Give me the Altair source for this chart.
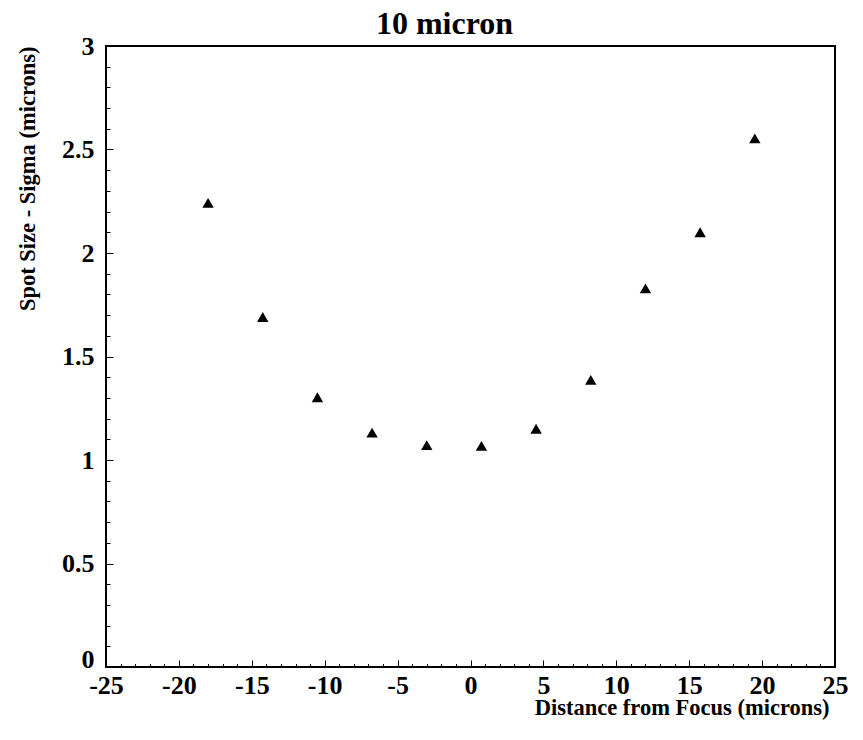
import altair as alt
import pandas as pd

# Data
distance = [-18.0, -14.25, -10.5, -6.75, -3.0, 0.75, 4.5, 8.25, 12.0, 15.75, 19.5]
sigma = [2.242, 1.691, 1.303, 1.132, 1.072, 1.068, 1.151, 1.387, 1.829, 2.100, 2.554]

x_major = [-25, -20, -15, -10, -5, 0, 5, 10, 15, 20, 25]
x_minor = list(range(-25, 26))
y_major = [0, 0.5, 1, 1.5, 2, 2.5, 3]
y_minor = [round(i * 0.1, 1) for i in range(31)]

df = pd.DataFrame({"x": distance, "y": sigma})

FONT = "Liberation Serif"
xs = alt.Scale(domain=[-25, 25], nice=False, zero=False)
ys = alt.Scale(domain=[0, 3], nice=False, zero=False)

base = alt.Chart(df)

points = base.mark_point(
    shape="triangle-up", filled=True, size=130, color="black", opacity=1
).encode(
    x=alt.X("x:Q", scale=xs, axis=alt.Axis(
        orient="bottom", values=x_major, ticks=False, domain=False, grid=False,
        labelExpr="toString(datum.value)",
        labelFont=FONT, labelFontWeight="bold", labelFontSize=26, labelColor="black",
        labelPadding=5, labelFlush=False, labelOverlap=False,
        title="Distance from Focus (microns)", titleFont=FONT, titleFontWeight="bold",
        titleFontSize=22.5, titleColor="black", titleAlign="right",
        titleBaseline="alphabetic", titleX=723, titleY=47)),
    y=alt.Y("y:Q", scale=ys, axis=alt.Axis(
        orient="left", values=y_major, ticks=False, domain=False, grid=False,
        labelExpr="toString(datum.value)",
        labelBaseline={"condition": {"test": "datum.value == 0", "value": "alphabetic"},
                       "value": "middle"},
        labelFont=FONT, labelFontWeight="bold", labelFontSize=26, labelColor="black",
        labelPadding=12, labelFlush=False, labelOverlap=False,
        title="Spot Size - Sigma (microns)", titleFont=FONT, titleFontWeight="bold",
        titleFontSize=22.5, titleColor="black", titleAngle=-90, titleAlign="right",
        titleBaseline="alphabetic", titleX=-72, titleY=0)),
)

def tick_layer(axis_x, axis_y):
    return base.mark_point(opacity=0).encode(
        x=alt.X("x:Q", scale=xs, axis=axis_x),
        y=alt.Y("y:Q", scale=ys, axis=axis_y),
    )

def tick_axis(orient, values, size):
    return alt.Axis(orient=orient, values=values, offset=-size, tickSize=size,
                    ticks=True, tickColor="black", tickWidth=1, labels=False,
                    domain=False, grid=False, title=None)

x_minor_l = tick_layer(tick_axis("bottom", x_minor, 3.5), None)
x_major_l = tick_layer(tick_axis("bottom", x_major, 7), None)
y_minor_l = tick_layer(None, tick_axis("left", y_minor, 4))
y_major_l = tick_layer(None, tick_axis("left", y_major, 7))

chart = alt.layer(points, x_minor_l, x_major_l, y_minor_l, y_major_l).resolve_axis(
    x="independent", y="independent"
).properties(
    width=729, height=621,
    background="white",
    title=alt.TitleParams("10 micron", font=FONT, fontWeight="bold", fontSize=32,
                          color="black", anchor="middle", dx=-26, offset=0, dy=8),
    autosize=alt.AutoSizeParams(type="none"),
    padding={"left": 106, "top": 46, "right": 28, "bottom": 73},
).configure_view(stroke="black", strokeWidth=2)

chart.save("out.html", embed_options={"renderer": "svg", "actions": False})
